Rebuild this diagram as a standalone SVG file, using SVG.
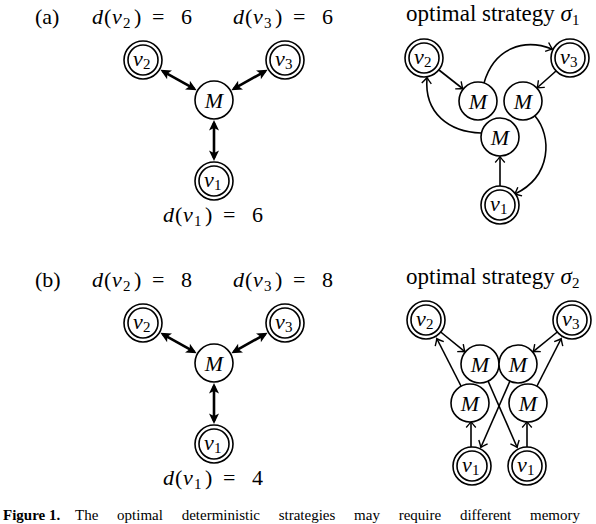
<svg xmlns="http://www.w3.org/2000/svg" width="596" height="524" viewBox="0 0 596 524">
<style>
text{font-family:"Liberation Serif","Times New Roman",serif;fill:#000}
.lbl{font-size:22px}
.ttl{font-size:23px}
.it{font-style:italic}
.sub{font-size:15px}
.c{fill:#fff;stroke:#000;stroke-width:1.6}
.thick{fill:none;stroke:#000;stroke-width:2.6;marker-start:url(#ah);marker-end:url(#ah)}
.thin{fill:none;stroke:#000;stroke-width:1.6;marker-end:url(#op)}
.cap{font-size:15px}
</style>
<defs>
<marker id="ah" markerUnits="userSpaceOnUse" viewBox="-10 -6 14 12" refX="0" refY="0" markerWidth="14" markerHeight="12" orient="auto-start-reverse">
<path d="M3,0 L-7.5,-5 L-5,0 L-7.5,5 z" fill="#000"/>
</marker>
<marker id="op" markerUnits="userSpaceOnUse" viewBox="-8 -6 10 12" refX="0" refY="0" markerWidth="10" markerHeight="12" orient="auto">
<path d="M-5.5,-4.8 Q-1.5,-1.2 0.5,0 Q-1.5,1.2 -5.5,4.8" fill="none" stroke="#000" stroke-width="1.4"/>
</marker>
</defs>

<!-- labels (a) -->
<g id="labels-a" class="lbl">
<text x="35" y="24">(a)</text>
<text y="24"><tspan x="92" class="it">d</tspan><tspan x="104">(</tspan><tspan x="112" class="it">v</tspan><tspan x="123" class="sub" dy="4">2</tspan><tspan x="134" dy="-4">)</tspan><tspan x="152">=</tspan><tspan x="181">6</tspan></text>
<text y="24"><tspan x="233" class="it">d</tspan><tspan x="245">(</tspan><tspan x="253" class="it">v</tspan><tspan x="264" class="sub" dy="4">3</tspan><tspan x="275" dy="-4">)</tspan><tspan x="293">=</tspan><tspan x="322">6</tspan></text>
<text y="222"><tspan x="163" class="it">d</tspan><tspan x="175">(</tspan><tspan x="183" class="it">v</tspan><tspan x="194" class="sub" dy="4">1</tspan><tspan x="205" dy="-4">)</tspan><tspan x="223">=</tspan><tspan x="252">6</tspan></text>
<text class="ttl" x="406" y="21">optimal strategy <tspan class="it">σ</tspan><tspan class="sub" dy="4">1</tspan></text>
</g>

<!-- labels (b) -->
<g id="labels-b" class="lbl">
<text x="35" y="287">(b)</text>
<text y="287"><tspan x="92" class="it">d</tspan><tspan x="104">(</tspan><tspan x="112" class="it">v</tspan><tspan x="123" class="sub" dy="4">2</tspan><tspan x="134" dy="-4">)</tspan><tspan x="152">=</tspan><tspan x="181">8</tspan></text>
<text y="287"><tspan x="233" class="it">d</tspan><tspan x="245">(</tspan><tspan x="253" class="it">v</tspan><tspan x="264" class="sub" dy="4">3</tspan><tspan x="275" dy="-4">)</tspan><tspan x="293">=</tspan><tspan x="322">8</tspan></text>
<text y="485"><tspan x="163" class="it">d</tspan><tspan x="175">(</tspan><tspan x="183" class="it">v</tspan><tspan x="194" class="sub" dy="4">1</tspan><tspan x="205" dy="-4">)</tspan><tspan x="223">=</tspan><tspan x="252">4</tspan></text>
<text class="ttl" x="406" y="284">optimal strategy <tspan class="it">σ</tspan><tspan class="sub" dy="4">2</tspan></text>
</g>

<!-- connectors -->
<g id="connectors">
<!-- (a) left -->
<line class="thick" x1="163" y1="71.3" x2="194" y2="88.7"/>
<line class="thick" x1="265" y1="71.3" x2="234" y2="88.7"/>
<line class="thick" x1="214" y1="158" x2="214" y2="123"/>
<!-- (a) right -->
<line class="thin" x1="439" y1="70" x2="462.5" y2="88.5"/>
<line class="thin" x1="556" y1="71" x2="537.5" y2="87.5"/>
<line class="thin" x1="500" y1="186" x2="500" y2="157"/>
<path class="thin" d="M481,133 C450,132 424,114 427,78"/>
<path class="thin" d="M484,83 C494,48 524,38 552,49"/>
<path class="thin" d="M535,116 C552,136 552,176 515,194"/>
<!-- (b) left -->
<line class="thick" x1="163" y1="334.3" x2="194" y2="351.7"/>
<line class="thick" x1="265" y1="334.3" x2="234" y2="351.7"/>
<line class="thick" x1="214" y1="421" x2="214" y2="386"/>
<!-- (b) right -->
<line class="thin" x1="440.7" y1="332" x2="464.5" y2="351.4"/>
<line class="thin" x1="461" y1="386" x2="437" y2="339"/>
<line class="thin" x1="557.3" y1="332" x2="533.5" y2="351.4"/>
<line class="thin" x1="537" y1="386" x2="561" y2="339"/>
<line class="thin" x1="471" y1="447" x2="471" y2="422"/>
<line class="thin" x1="527" y1="447" x2="527" y2="422"/>
<line class="thin" x1="510" y1="381" x2="481" y2="447"/>
<line class="thin" x1="488" y1="381" x2="517" y2="447"/>
</g>

<!-- nodes (a) left -->
<g id="a-M"><circle class="c" cx="214" cy="100" r="19"/><text class="lbl it" x="214" y="108" text-anchor="middle">M</text></g>
<g id="a-v2"><circle class="c" cx="143" cy="60" r="19"/><circle class="c" cx="143" cy="60" r="15"/><text class="lbl" y="66"><tspan x="133" class="it">v</tspan><tspan x="143" class="sub" dy="3">2</tspan></text></g>
<g id="a-v3"><circle class="c" cx="285" cy="60" r="19"/><circle class="c" cx="285" cy="60" r="15"/><text class="lbl" y="66"><tspan x="275" class="it">v</tspan><tspan x="285" class="sub" dy="3">3</tspan></text></g>
<g id="a-v1"><circle class="c" cx="214" cy="181" r="19"/><circle class="c" cx="214" cy="181" r="15"/><text class="lbl" y="187"><tspan x="204" class="it">v</tspan><tspan x="214" class="sub" dy="3">1</tspan></text></g>

<!-- nodes (a) right -->
<g id="s1-v2"><circle class="c" cx="424" cy="58" r="19"/><circle class="c" cx="424" cy="58" r="15"/><text class="lbl" y="64"><tspan x="414" class="it">v</tspan><tspan x="424" class="sub" dy="3">2</tspan></text></g>
<g id="s1-v3"><circle class="c" cx="570" cy="58" r="19"/><circle class="c" cx="570" cy="58" r="15"/><text class="lbl" y="64"><tspan x="560" class="it">v</tspan><tspan x="570" class="sub" dy="3">3</tspan></text></g>
<g id="s1-ML"><circle class="c" cx="478" cy="101" r="19"/><text class="lbl it" x="478" y="109" text-anchor="middle">M</text></g>
<g id="s1-MR"><circle class="c" cx="523" cy="101" r="19"/><text class="lbl it" x="523" y="109" text-anchor="middle">M</text></g>
<g id="s1-MB"><circle class="c" cx="500" cy="137" r="19"/><text class="lbl it" x="500" y="145" text-anchor="middle">M</text></g>
<g id="s1-v1"><circle class="c" cx="500" cy="205" r="19"/><circle class="c" cx="500" cy="205" r="15"/><text class="lbl" y="211"><tspan x="490" class="it">v</tspan><tspan x="500" class="sub" dy="3">1</tspan></text></g>

<!-- nodes (b) left -->
<g id="b-M"><circle class="c" cx="214" cy="363" r="19"/><text class="lbl it" x="214" y="371" text-anchor="middle">M</text></g>
<g id="b-v2"><circle class="c" cx="143" cy="323" r="19"/><circle class="c" cx="143" cy="323" r="15"/><text class="lbl" y="329"><tspan x="133" class="it">v</tspan><tspan x="143" class="sub" dy="3">2</tspan></text></g>
<g id="b-v3"><circle class="c" cx="285" cy="323" r="19"/><circle class="c" cx="285" cy="323" r="15"/><text class="lbl" y="329"><tspan x="275" class="it">v</tspan><tspan x="285" class="sub" dy="3">3</tspan></text></g>
<g id="b-v1"><circle class="c" cx="214" cy="444" r="19"/><circle class="c" cx="214" cy="444" r="15"/><text class="lbl" y="450"><tspan x="204" class="it">v</tspan><tspan x="214" class="sub" dy="3">1</tspan></text></g>

<!-- nodes (b) right -->
<g id="s2-v2"><circle class="c" cx="426" cy="320" r="19"/><circle class="c" cx="426" cy="320" r="15"/><text class="lbl" y="326"><tspan x="416" class="it">v</tspan><tspan x="426" class="sub" dy="3">2</tspan></text></g>
<g id="s2-v3"><circle class="c" cx="572" cy="320" r="19"/><circle class="c" cx="572" cy="320" r="15"/><text class="lbl" y="326"><tspan x="562" class="it">v</tspan><tspan x="572" class="sub" dy="3">3</tspan></text></g>
<g id="s2-MTL"><circle class="c" cx="480" cy="364" r="19"/><text class="lbl it" x="480" y="372" text-anchor="middle">M</text></g>
<g id="s2-MTR"><circle class="c" cx="518" cy="364" r="19"/><text class="lbl it" x="518" y="372" text-anchor="middle">M</text></g>
<g id="s2-MBL"><circle class="c" cx="470" cy="403" r="19"/><text class="lbl it" x="470" y="411" text-anchor="middle">M</text></g>
<g id="s2-MBR"><circle class="c" cx="528" cy="403" r="19"/><text class="lbl it" x="528" y="411" text-anchor="middle">M</text></g>
<g id="s2-v1L"><circle class="c" cx="472" cy="466" r="19"/><circle class="c" cx="472" cy="466" r="15"/><text class="lbl" y="472"><tspan x="462" class="it">v</tspan><tspan x="472" class="sub" dy="3">1</tspan></text></g>
<g id="s2-v1R"><circle class="c" cx="527" cy="466" r="19"/><circle class="c" cx="527" cy="466" r="15"/><text class="lbl" y="472"><tspan x="517" class="it">v</tspan><tspan x="527" class="sub" dy="3">1</tspan></text></g>

<!-- caption -->
<g id="caption" class="cap">
<text x="3" y="520" font-weight="bold">Figure 1.</text>
<text x="75" y="520" word-spacing="15">The optimal deterministic strategies may require different memory</text>
</g>
</svg>
